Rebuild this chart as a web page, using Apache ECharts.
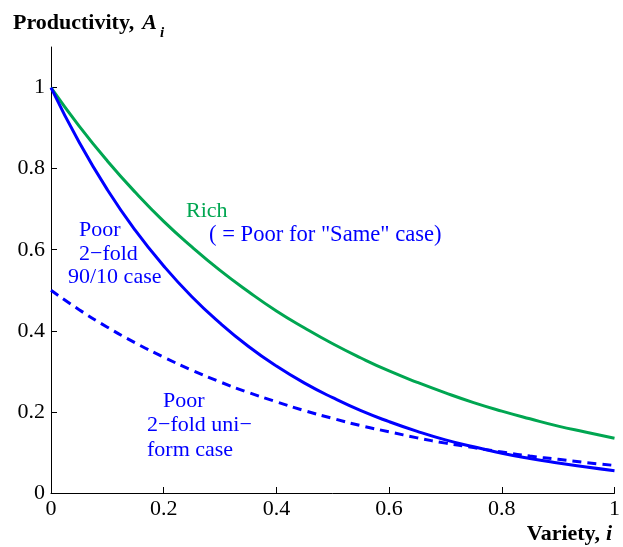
<!DOCTYPE html>
<html>
<head>
<meta charset="utf-8">
<script src="https://cdn.jsdelivr.net/npm/echarts@6/dist/echarts.min.js"></script>
<style>
  html, body { margin: 0; padding: 0; background: #fff; }
  #chart { width: 623px; height: 547px; }
</style>
</head>
<body>
<div id="chart"></div>
<script>
// variety i
var variety = [0, 0.05, 0.1, 0.15, 0.2, 0.25, 0.3, 0.35, 0.4, 0.45, 0.5,
  0.55, 0.6, 0.65, 0.7, 0.75, 0.8, 0.85, 0.9, 0.95, 1];
// Rich (= Poor for "Same" case)
var rich = [1, 0.905, 0.819, 0.741, 0.670, 0.607, 0.549, 0.497, 0.449, 0.407, 0.368,
  0.333, 0.301, 0.273, 0.247, 0.223, 0.202, 0.183, 0.165, 0.150, 0.135];
// Poor, 2-fold 90/10 case
var poor9010 = [1, 0.865, 0.748, 0.647, 0.560, 0.484, 0.419, 0.362, 0.313, 0.271, 0.235,
  0.203, 0.176, 0.152, 0.131, 0.114, 0.098, 0.085, 0.074, 0.064, 0.055];
// Poor, 2-fold uniform case
var poorUniform = [0.5, 0.452, 0.409, 0.370, 0.335, 0.303, 0.274, 0.248, 0.225, 0.203, 0.184,
  0.166, 0.151, 0.136, 0.123, 0.112, 0.101, 0.091, 0.083, 0.075, 0.068];
var yTicks = [0, 0.2, 0.4, 0.6, 0.8, 1];

function pairs(ys) {
  return variety.map(function (x, k) { return [x, ys[k]]; });
}
function fmt(v) {
  return String(+v.toFixed(1));
}

var FONT = '"Liberation Serif", "DejaVu Serif", serif';
var GREEN = '#00a651';
var BLUE = '#0000ff';
var chart = echarts.init(document.getElementById('chart'));

var option = {
  animation: false,
  grid: { left: 51, right: 6, top: 47, bottom: 54 },
  xAxis: {
    type: 'value', min: 0, max: 1, interval: 0.2,
    axisLine: { lineStyle: { color: '#000', width: 1 } },
    axisTick: { inside: true, length: 6, lineStyle: { color: '#000' } },
    axisLabel: { color: '#000', fontFamily: FONT, fontSize: 22, margin: 5, formatter: fmt },
    splitLine: { show: false }
  },
  yAxis: {
    type: 'value', min: 0, max: 1.1,
    axisLine: { show: true, lineStyle: { color: '#000', width: 1 } },
    axisTick: { show: true, inside: true, length: 6, lineStyle: { color: '#000' }, customValues: yTicks },
    axisLabel: { color: '#000', fontFamily: FONT, fontSize: 22, margin: 6, formatter: fmt, customValues: yTicks },
    splitLine: { show: false }
  },
  series: [
    {
      name: 'Rich', type: 'line', data: pairs(rich), smooth: true, showSymbol: false,
      lineStyle: { color: GREEN, width: 3 }, z: 2
    },
    {
      name: 'Poor 90/10', type: 'line', data: pairs(poor9010), smooth: true, showSymbol: false,
      lineStyle: { color: BLUE, width: 3 }, z: 3
    },
    {
      name: 'Poor uniform', type: 'line', data: pairs(poorUniform), smooth: true, showSymbol: false,
      lineStyle: { color: BLUE, width: 3, type: [9, 6] }, z: 3
    }
  ],
  graphic: [
    {
      type: 'text', left: 13, top: 12,
      style: {
        text: '{b|Productivity,}{a|A}{s|i}',
        rich: {
          b: { font: 'bold 22px ' + FONT, fill: '#000' },
          a: { font: 'bold italic 22px ' + FONT, fill: '#000', padding: [0, 0, 0, 8] },
          s: { font: 'bold italic 15px ' + FONT, fill: '#000', padding: [20, 0, 0, 3] }
        }
      }
    },
    {
      type: 'text', right: 11, top: 523,
      style: {
        text: '{b|Variety,}{a|i}',
        rich: {
          b: { font: 'bold 22px ' + FONT, fill: '#000' },
          a: { font: 'bold italic 22px ' + FONT, fill: '#000', padding: [0, 0, 0, 6] }
        }
      }
    },
    { type: 'text', left: 186, top: 200, style: { text: 'Rich', font: '22px ' + FONT, fill: GREEN } },
    { type: 'text', left: 209, top: 224, style: { text: '( = Poor for "Same" case)', font: '22.6px ' + FONT, fill: BLUE } },
    { type: 'text', left: 79, top: 219, style: { text: 'Poor', font: '22px ' + FONT, fill: BLUE } },
    { type: 'text', left: 79, top: 243, style: { text: '2\u2212fold', font: '22px ' + FONT, fill: BLUE } },
    { type: 'text', left: 68, top: 266, style: { text: '90/10 case', font: '22px ' + FONT, fill: BLUE } },
    { type: 'text', left: 163, top: 390, style: { text: 'Poor', font: '22px ' + FONT, fill: BLUE } },
    { type: 'text', left: 147, top: 414, style: { text: '2\u2212fold uni\u2212', font: '22px ' + FONT, fill: BLUE } },
    { type: 'text', left: 147, top: 439, style: { text: 'form case', font: '22px ' + FONT, fill: BLUE } }
  ]
};
chart.setOption(option);
</script>
</body>
</html>
